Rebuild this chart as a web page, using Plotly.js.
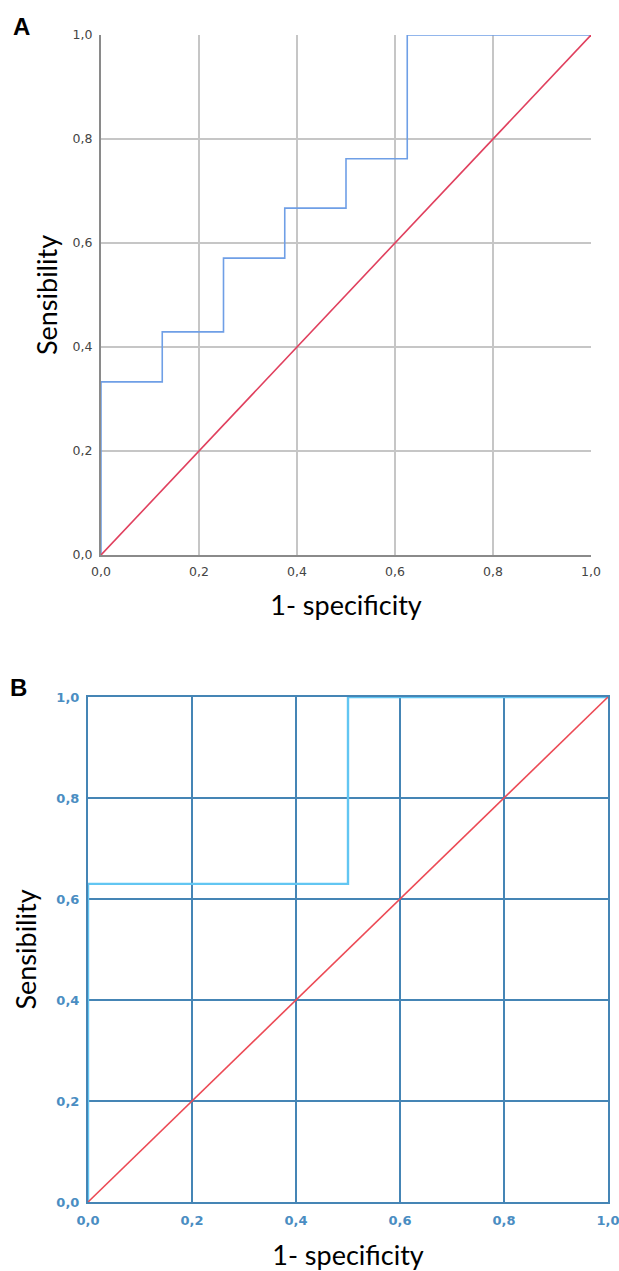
<!DOCTYPE html>
<html>
<head>
<meta charset="utf-8">
<script src="https://cdn.plot.ly/plotly-3.0.1.min.js"></script>
<style>html,body{margin:0;padding:0;background:#fff;}#chart{width:619px;height:1271px;}</style>
</head>
<body>
<div id="chart"></div>
<script>
// Panel A ROC data
const fprA = [0, 0, 0.125, 0.25, 0.375, 0.5, 0.625, 1];
const tprA = [0, 0.333, 0.429, 0.571, 0.667, 0.762, 1, 1];
// Panel B ROC data
const fprB = [0, 0, 0.5, 1];
const tprB = [0, 0.63, 1, 1];
// Reference diagonal
const diagX = [0, 1];
const diagY = [0, 1];
const tickVals = [0, 0.2, 0.4, 0.6, 0.8, 1];

const W = 619, H = 1271;
const px = v => v / W;
const py = v => 1 - v / H;

const traces = [
  {x: fprA, y: tprA, xaxis: 'x', yaxis: 'y', mode: 'lines', line: {shape: 'hv', color: '#6f9fe6', width: 1.6}, cliponaxis: false, hoverinfo: 'skip'},
  {x: diagX, y: diagY, xaxis: 'x', yaxis: 'y', mode: 'lines', line: {color: '#e0405e', width: 1.6}, cliponaxis: false, hoverinfo: 'skip'},
  {x: fprB, y: tprB, xaxis: 'x2', yaxis: 'y2', mode: 'lines', line: {shape: 'hv', color: '#62c6f2', width: 2.4}, cliponaxis: false, hoverinfo: 'skip'},
  {x: diagX, y: diagY, xaxis: 'x2', yaxis: 'y2', mode: 'lines', line: {color: '#ec4a55', width: 1.6}, cliponaxis: false, hoverinfo: 'skip'}
];

const tickFontA = {family: 'DejaVu Sans', size: 12.5, color: '#444'};
const tickFontB = {family: 'DejaVu Sans', size: 13, color: '#4a8dc2', weight: 'bold'};
const titleFont = {family: 'Lato', size: 27, color: '#000'};

const layout = {
  width: W, height: H,
  margin: {l: 0, r: 0, t: 0, b: 0},
  paper_bgcolor: '#fff', plot_bgcolor: '#fff',
  showlegend: false,
  separators: ',.',
  xaxis: {
    domain: [px(101), px(591)], range: [0, 1], anchor: 'y',
    tickvals: tickVals, tickformat: '.1f', ticks: '', tickfont: tickFontA, ticklabelstandoff: 4, ticklabeloverflow: 'allow',
    showgrid: true, gridcolor: '#c6c6c6', gridwidth: 2,
    zeroline: false, showline: true, linecolor: '#8a8a8a', linewidth: 2, layer: 'below traces',
    title: {text: '1- specificity', font: titleFont, standoff: 18}
  },
  yaxis: {
    domain: [py(555), py(35)], range: [0, 1], anchor: 'x',
    tickvals: tickVals, tickformat: '.1f', ticks: '', tickfont: tickFontA, ticklabelstandoff: 4, ticklabeloverflow: 'allow',
    showgrid: true, gridcolor: '#c6c6c6', gridwidth: 2,
    zeroline: false, showline: true, linecolor: '#8a8a8a', linewidth: 2, layer: 'below traces',
    title: {text: 'Sensibility', font: titleFont, standoff: 7}
  },
  xaxis2: {
    domain: [px(88), px(608)], range: [0, 1], anchor: 'y2',
    tickvals: tickVals, tickformat: '.1f', ticks: '', tickfont: tickFontB, ticklabelstandoff: 5, ticklabeloverflow: 'allow',
    showgrid: true, gridcolor: '#4585b5', gridwidth: 2,
    zeroline: false, showline: true, linecolor: '#4585b5', linewidth: 2, mirror: true,
    title: {text: '1- specificity', font: titleFont, standoff: 22}
  },
  yaxis2: {
    domain: [py(1202), py(697)], range: [0, 1], anchor: 'x2',
    tickvals: tickVals, tickformat: '.1f', ticks: '', tickfont: tickFontB, ticklabelstandoff: 4, ticklabeloverflow: 'allow',
    showgrid: true, gridcolor: '#4585b5', gridwidth: 2,
    zeroline: false, showline: true, linecolor: '#4585b5', linewidth: 2, mirror: true,
    title: {text: 'Sensibility', font: titleFont, standoff: 12}
  },
  annotations: [
    {text: '<b>A</b>', x: px(21), y: py(26), xref: 'paper', yref: 'paper', xanchor: 'center', yanchor: 'middle', showarrow: false, font: {family: 'Liberation Sans', size: 24, color: '#000'}},
    {text: '<b>B</b>', x: px(18), y: py(687), xref: 'paper', yref: 'paper', xanchor: 'center', yanchor: 'middle', showarrow: false, font: {family: 'Liberation Sans', size: 24, color: '#000'}}
  ]
};

Plotly.newPlot('chart', traces, layout, {displayModeBar: false, staticPlot: true});
</script>
</body>
</html>
